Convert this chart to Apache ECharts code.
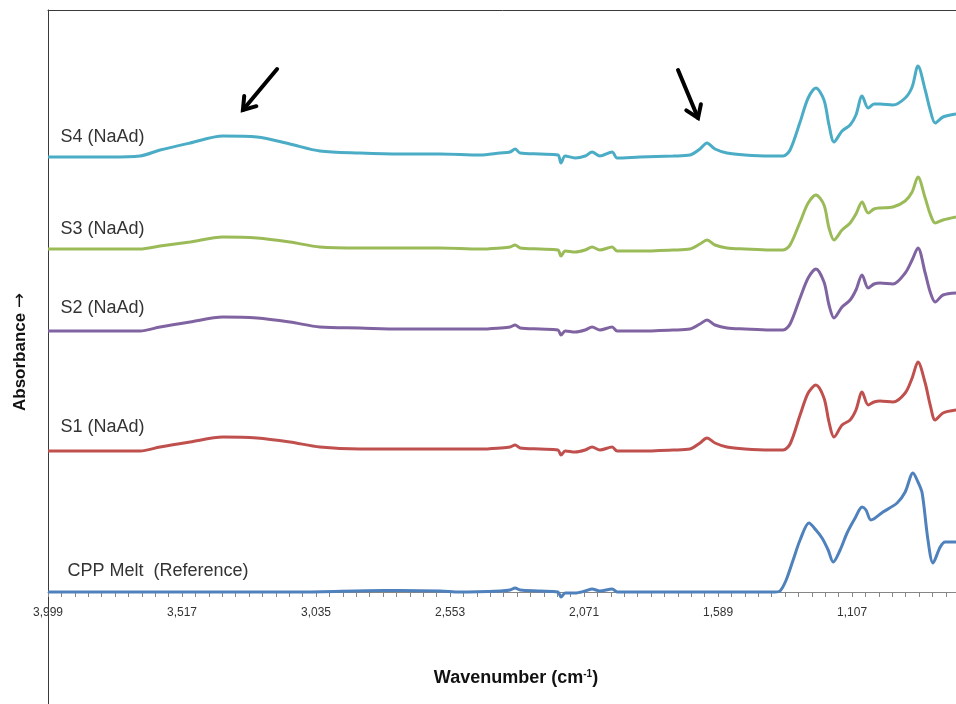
<!DOCTYPE html>
<html>
<head>
<meta charset="utf-8">
<script src="https://cdn.jsdelivr.net/npm/echarts@6/dist/echarts.min.js"></script>
<style>
  html, body { margin: 0; padding: 0; background: #fff; }
  #chart { width: 956px; height: 704px; }
</style>
</head>
<body>
<div id="chart"></div>
<script>
// Wavenumber sampling (cm-1) shared by the four NaAd spectra
const wnGrid = [3999,3884,3776,3668,3596,3488,3370,3247,3129,3021,
  2877,2733,2589,2445,2373,2337,2319,2301,2229,2165,
  2154,2139,2103,2067,2042,2014,1970,1952,1870,1751,
  1690,1654,1629,1600,1557,1492,1402,1355,1330,1294,
  1265,1237,1208,1190,1172,1143,1114,1093,1071,1049,
  1028,1006,960,916,891,870,844,826,808,780,733];

// Stacked (offset) absorbance values
const s4Abs = [4.35,4.35,4.35,4.36,4.42,4.49,4.56,4.55,4.48,4.41,
  4.39,4.38,4.38,4.37,4.39,4.40,4.43,4.39,4.38,4.37,
  4.29,4.36,4.34,4.36,4.40,4.36,4.40,4.34,4.35,4.36,
  4.37,4.43,4.49,4.43,4.39,4.37,4.36,4.36,4.42,4.70,
  4.94,5.04,4.92,4.67,4.50,4.61,4.67,4.77,4.96,4.84,
  4.88,4.88,4.87,4.94,5.05,5.26,5.02,4.82,4.69,4.75,4.78];

const s3Abs = [3.43,3.43,3.43,3.43,3.46,3.50,3.55,3.54,3.50,3.45,
  3.44,3.44,3.44,3.43,3.44,3.45,3.47,3.44,3.43,3.42,
  3.36,3.41,3.40,3.42,3.45,3.42,3.45,3.41,3.41,3.42,
  3.43,3.48,3.52,3.47,3.44,3.43,3.42,3.42,3.47,3.70,
  3.89,3.97,3.87,3.64,3.52,3.62,3.69,3.78,3.90,3.79,
  3.83,3.84,3.85,3.91,4.00,4.15,3.94,3.78,3.69,3.72,3.75];

const s2Abs = [2.61,2.61,2.61,2.61,2.65,2.70,2.75,2.74,2.70,2.65,
  2.64,2.63,2.63,2.63,2.64,2.65,2.67,2.64,2.63,2.62,
  2.57,2.61,2.60,2.62,2.65,2.62,2.65,2.61,2.61,2.62,
  2.63,2.68,2.72,2.67,2.64,2.63,2.62,2.62,2.68,2.94,
  3.14,3.23,3.10,2.87,2.74,2.85,2.92,3.02,3.17,3.04,
  3.08,3.09,3.08,3.19,3.32,3.44,3.19,3.00,2.90,2.97,2.99];

const s1Abs = [1.41,1.41,1.41,1.41,1.45,1.50,1.55,1.54,1.50,1.45,
  1.43,1.43,1.43,1.43,1.44,1.45,1.47,1.44,1.43,1.42,
  1.37,1.41,1.40,1.42,1.45,1.42,1.45,1.41,1.41,1.42,
  1.43,1.49,1.54,1.49,1.45,1.43,1.42,1.42,1.48,1.77,
  1.99,2.07,1.94,1.70,1.55,1.67,1.72,1.82,2.00,1.87,
  1.90,1.91,1.90,1.99,2.14,2.30,2.09,1.87,1.72,1.79,1.82];

// Reference melt spectrum has its own sampling
const wnCpp = [3999,3812,3452,3093,2794,2733,2589,2517,2373,2337,
  2319,2301,2229,2165,2154,2139,2103,2067,2042,2014,
  1970,1952,1834,1654,1474,1384,1366,1344,1319,1294,
  1262,1237,1215,1193,1175,1150,1125,1096,1071,1057,
  1039,996,945,916,888,870,855,834,816,790,772,733];

const cppAbs = [0,0,0,0,0.015,0.015,0.01,0,0.01,0.02,
  0.04,0.02,0.01,0,-0.05,-0.01,-0.01,0.01,0.03,0.01,
  0.03,0,0,0,0,0,0.01,0.12,0.32,0.52,
  0.69,0.62,0.54,0.42,0.30,0.42,0.59,0.74,0.85,0.82,
  0.72,0.80,0.89,1.00,1.19,1.10,0.99,0.52,0.29,0.45,0.50,0.50];

const seriesNames = ['S4 (NaAd)', 'S3 (NaAd)', 'S2 (NaAd)', 'S1 (NaAd)', 'CPP Melt  (Reference)'];
const seriesColors = ['#4BACC6', '#9BBB59', '#8064A2', '#C0504D', '#4F81BD'];

// Axis tick labels and tick spacing
const tickLabels = [3999, 3517, 3035, 2553, 2071, 1589, 1107];
const tickStep = 48.2;

// Arrows pointing at the O-H and C=O bands of S4 [wavenumber, absorbance]
const arrowFrom = [[3175, 5.23], [1733, 5.22]];
const arrowTo = [[3298, 4.82], [1661, 4.74]];

const xMin = 726, xMax = 3999;
const minorTicks = [];
for (let k = 0; tickLabels[0] - k * tickStep >= xMin; k++) {
  minorTicks.push(+(tickLabels[0] - k * tickStep).toFixed(1));
}

const pair = (xs, ys) => xs.map((x, i) => [x, ys[i]]);

const lineSets = [
  pair(wnGrid, s4Abs),
  pair(wnGrid, s3Abs),
  pair(wnGrid, s2Abs),
  pair(wnGrid, s1Abs),
  pair(wnCpp, cppAbs)
];

// Where each spectrum's name sits (left end, above its baseline)
const nameAnchors = [[3956, 4.55], [3956, 3.63], [3956, 2.84], [3956, 1.65], [3931, 0.21]];

const FONT = '"Liberation Sans", Arial, sans-serif';
const FRAME = '#3a3a3a';

const chart = echarts.init(document.getElementById('chart'), null, { renderer: 'canvas' });

const series = lineSets.map((data, i) => ({
  name: seriesNames[i],
  type: 'line',
  data: data,
  showSymbol: false,
  smooth: 0.3,
  clip: false,
  lineStyle: { color: seriesColors[i], width: 3 },
  itemStyle: { color: seriesColors[i] },
  animation: false,
  markPoint: {
    silent: true,
    symbol: 'circle',
    symbolSize: 1,
    itemStyle: { color: 'rgba(0,0,0,0)' },
    label: {
      show: true,
      position: 'right',
      distance: 0,
      formatter: seriesNames[i],
      color: '#333',
      fontFamily: FONT,
      fontSize: 18
    },
    data: [{ coord: nameAnchors[i] }]
  }
}));

chart.setOption({
  backgroundColor: '#fff',
  animation: false,
  grid: {
    left: 48, top: 10, right: -2, bottom: 112,
    outerBoundsMode: 'none',
    containLabel: false,
    show: false
  },
  xAxis: [{
    type: 'value',
    inverse: true,
    min: xMin,
    max: xMax,
    position: 'bottom',
    name: '{t|Wavenumber (cm}{s|-1}{t|)}',
    nameLocation: 'middle',
    nameGap: 77,
    nameTextStyle: {
      padding: [0, 0, 0, 26],
      rich: {
        t: { fontFamily: FONT, fontWeight: 'bold', fontSize: 18, color: '#111' },
        s: { fontFamily: FONT, fontWeight: 'bold', fontSize: 10, color: '#111', verticalAlign: 'top', padding: [0, 0, 8, 0] }
      }
    },
    axisLine: { onZero: false, lineStyle: { color: '#868686', width: 1 } },
    axisTick: { show: true, customValues: minorTicks, length: 5, lineStyle: { color: '#868686' } },
    axisLabel: {
      customValues: tickLabels,
      formatter: v => Math.round(v).toLocaleString('en-US'),
      margin: 15,
      color: '#333',
      fontFamily: FONT,
      fontSize: 12
    },
    splitLine: { show: false }
  }, {
    // top edge of the frame
    type: 'value',
    inverse: true,
    min: xMin,
    max: xMax,
    position: 'top',
    axisLine: { onZero: false, lineStyle: { color: FRAME, width: 1 } },
    axisTick: { show: false },
    axisLabel: { show: false },
    splitLine: { show: false }
  }],
  yAxis: {
    type: 'value',
    min: 0,
    max: 5.82,
    axisLine: { show: true, onZero: false, lineStyle: { color: FRAME, width: 1 } },
    axisTick: { show: false },
    axisLabel: { show: false },
    splitLine: { show: false }
  },
  series: series
});

// Axis title, frame extension and annotation arrows, placed once the grid is laid out
const gridOrigin = chart.convertToPixel({ gridIndex: 0 }, [xMax, 0]);
const graphics = [{
  type: 'line',
  shape: { x1: Math.round(gridOrigin[0]) + 0.5, y1: gridOrigin[1], x2: Math.round(gridOrigin[0]) + 0.5, y2: 704 },
  style: { stroke: FRAME, lineWidth: 1 },
  z: 0
}, {
  type: 'text',
  x: 20,
  y: 352,
  rotation: Math.PI / 2,
  style: {
    text: '{a|Absorbance }{b|\u2192}',
    align: 'center',
    verticalAlign: 'middle',
    rich: {
      a: { fontFamily: FONT, fontWeight: 'bold', fontSize: 17, fill: '#111' },
      b: { fontFamily: '"DejaVu Sans", sans-serif', fontWeight: 'normal', fontSize: 18, fill: '#111' }
    }
  }
}];

arrowFrom.forEach((from, i) => {
  const p0 = chart.convertToPixel({ gridIndex: 0 }, from);
  const p1 = chart.convertToPixel({ gridIndex: 0 }, arrowTo[i]);
  const dx = p0[0] - p1[0], dy = p0[1] - p1[1];
  const len = Math.hypot(dx, dy);
  const ux = dx / len, uy = dy / len;
  const head = 14, ang = 0.6;
  const rot = (a) => [ux * Math.cos(a) - uy * Math.sin(a), ux * Math.sin(a) + uy * Math.cos(a)];
  const r1 = rot(ang), r2 = rot(-ang);
  graphics.push({
    type: 'polyline',
    shape: { points: [p0, p1] },
    style: { stroke: '#000', lineWidth: 4, fill: null, lineCap: 'round' },
    z: 100
  });
  graphics.push({
    type: 'polyline',
    shape: { points: [[p1[0] + r1[0] * head, p1[1] + r1[1] * head], p1, [p1[0] + r2[0] * head, p1[1] + r2[1] * head]] },
    style: { stroke: '#000', lineWidth: 4, fill: null, lineCap: 'round', lineJoin: 'miter' },
    z: 100
  });
});

chart.setOption({ graphic: graphics });
</script>
</body>
</html>
